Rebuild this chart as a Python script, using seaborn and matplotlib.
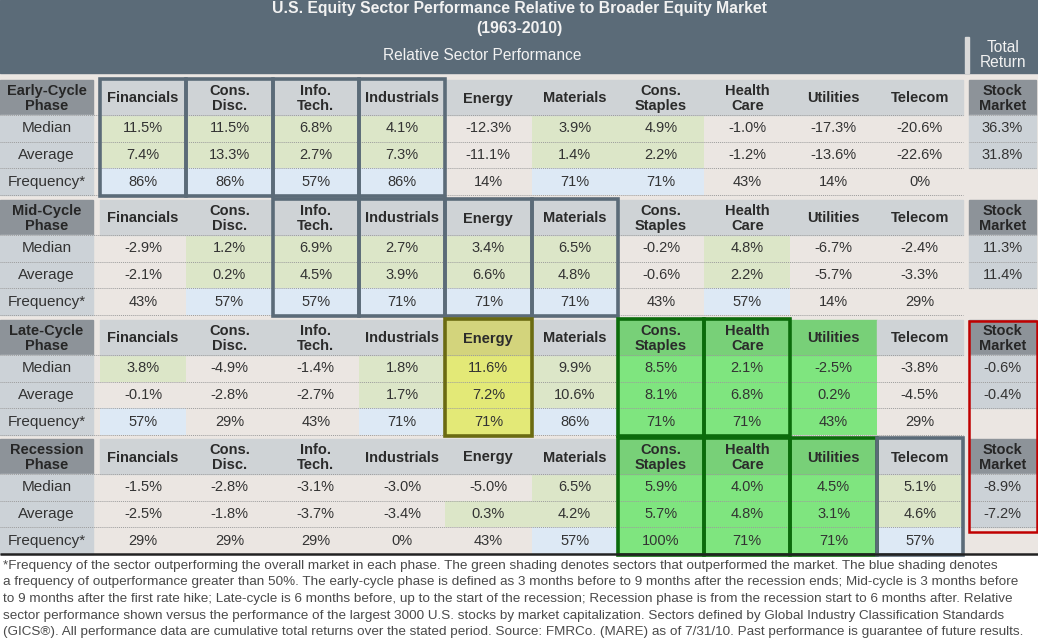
import numpy as np
import matplotlib.pyplot as plt
import seaborn as sns
from matplotlib.colors import ListedColormap
from matplotlib.patches import Rectangle

# ============================================================
# DADOS
# ============================================================

sectors = ['Financials', 'Cons.\nDisc.', 'Info.\nTech.', 'Industrials', 'Energy',
           'Materials', 'Cons.\nStaples', 'Health\nCare', 'Utilities', 'Telecom']
phases = ['Early-Cycle\nPhase', 'Mid-Cycle\nPhase', 'Late-Cycle\nPhase', 'Recession\nPhase']
row_labels = ['Median', 'Average', 'Frequency*']

early_median = [11.5, 11.5, 6.8, 4.1, -12.3, 3.9, 4.9, -1.0, -17.3, -20.6]
early_average = [7.4, 13.3, 2.7, 7.3, -11.1, 1.4, 2.2, -1.2, -13.6, -22.6]
early_freq = [86, 86, 57, 86, 14, 71, 71, 43, 14, 0]

mid_median = [-2.9, 1.2, 6.9, 2.7, 3.4, 6.5, -0.2, 4.8, -6.7, -2.4]
mid_average = [-2.1, 0.2, 4.5, 3.9, 6.6, 4.8, -0.6, 2.2, -5.7, -3.3]
mid_freq = [43, 57, 57, 71, 71, 71, 43, 57, 14, 29]

late_median = [3.8, -4.9, -1.4, 1.8, 11.6, 9.9, 8.5, 2.1, -2.5, -3.8]
late_average = [-0.1, -2.8, -2.7, 1.7, 7.2, 10.6, 8.1, 6.8, 0.2, -4.5]
late_freq = [57, 29, 43, 71, 71, 86, 71, 71, 43, 29]

rec_median = [-1.5, -2.8, -3.1, -3.0, -5.0, 6.5, 5.9, 4.0, 4.5, 5.1]
rec_average = [-2.5, -1.8, -3.7, -3.4, 0.3, 4.2, 5.7, 4.8, 3.1, 4.6]
rec_freq = [29, 29, 29, 0, 43, 57, 100, 71, 71, 57]

market_median = [36.3, 11.3, -0.6, -8.9]
market_average = [31.8, 11.4, -0.4, -7.2]

phase_data = [
    (early_median, early_average, early_freq),
    (mid_median, mid_average, mid_freq),
    (late_median, late_average, late_freq),
    (rec_median, rec_average, rec_freq),
]

footnote = [
    "*Frequency of the sector outperforming the overall market in each phase. The green shading denotes sectors that outperformed the market. The blue shading denotes",
    "a frequency of outperformance greater than 50%. The early-cycle phase is defined as 3 months before to 9 months after the recession ends; Mid-cycle is 3 months before",
    "to 9 months after the first rate hike; Late-cycle is 6 months before, up to the start of the recession; Recession phase is from the recession start to 6 months after. Relative",
    "sector performance shown versus the performance of the largest 3000 U.S. stocks by market capitalization. Sectors defined by Global Industry Classification Standards",
    "(GICS\u00ae). All performance data are cumulative total returns over the stated period. Source: FMRCo. (MARE) as of 7/31/10. Past performance is guarantee of future results.",
]

# ============================================================
# ESTILO / LAYOUT (pixels)
# ============================================================

sns.set_style('white')
plt.rcParams['font.family'] = ['Liberation Sans', 'DejaVu Sans']

W, H = 1038, 641
X0, CW = 100, 86.3
LAB_X1 = 93
MK_X0, MK_X1 = 969, 1036
block_tops = [80, 200, 320, 439]
HDR_H, ROW_H = 35, 26.7

BG = '#ebe6e2'
SLATE = '#5b6b78'
HDR_GRAY = '#cfd3d6'
DARK_GRAY = '#8d9399'
LIGHT_LAB = '#ccd2d7'
TXT = '#333333'

# 0 neutro, 1 verde, 2 azul, 3 verde forte, 4 amarelo
cell_colors = [BG, '#dce6c8', '#dde9f5', '#7fe57f', '#e3e977']
hdr_colors = {3: '#78d078', 4: '#d3d47c'}
highlight = {2: {4: 4, 6: 3, 7: 3, 8: 3}, 3: {6: 3, 7: 3, 8: 3}}
boxes = [
    (0, [0, 1, 2, 3], SLATE),
    (1, [2, 3, 4, 5], SLATE),
    (2, [4], '#6b6b12'),
    (2, [6, 7], '#0b6b0b'),
    (3, [6, 7, 8], '#0b6b0b'),
    (3, [9], SLATE),
]

fig = plt.figure(figsize=(W / 100, H / 100), dpi=100)


def px_axes(x0, y0, x1, y1, z):
    a = fig.add_axes([x0 / W, 1 - y1 / H, (x1 - x0) / W, (y1 - y0) / H], zorder=z)
    return a


bg = px_axes(0, 0, W, H, 0)
bg.set_xlim(0, W)
bg.set_ylim(H, 0)
bg.set_axis_off()
bg.add_patch(Rectangle((0, 0), W, H, color=BG))
bg.add_patch(Rectangle((0, 0), W, 73, color=SLATE))
bg.add_patch(Rectangle((965, 37), 4, 36, color='#d9d9d9'))
bg.add_patch(Rectangle((0, 555), W, H - 555, color='white'))

top = px_axes(0, 0, W, H, 5)
top.set_xlim(0, W)
top.set_ylim(H, 0)
top.set_axis_off()
top.patch.set_alpha(0)

# titulos
top.text(519, 9, 'U.S. Equity Sector Performance Relative to Broader Equity Market',
         ha='center', va='center', fontsize=11.3, fontweight='bold', color='#f2f2f2')
top.text(519, 28, '(1963-2010)', ha='center', va='center', fontsize=11.3,
         fontweight='bold', color='#f2f2f2')
top.text(482, 55, 'Relative Sector Performance', ha='center', va='center',
         fontsize=11.2, color='#f2f2f2')
top.text(1003, 55, 'Total\nReturn', ha='center', va='center', fontsize=11.2,
         color='#f2f2f2', linespacing=1.0)

cmap = ListedColormap(cell_colors)

for p, (med, avg, freq) in enumerate(phase_data):
    yt = block_tops[p]
    yh = yt + HDR_H
    yb = yh + 3 * ROW_H

    # codigos de cor a partir dos dados
    codes = np.zeros((3, len(sectors)), dtype=int)
    for j in range(len(sectors)):
        codes[0, j] = 1 if med[j] > 0 else 0
        codes[1, j] = 1 if avg[j] > 0 else 0
        codes[2, j] = 2 if freq[j] > 50 else 0
    for j, c in highlight.get(p, {}).items():
        codes[:, j] = c
    labels = np.array([[f'{v:.1f}%' for v in med],
                       [f'{v:.1f}%' for v in avg],
                       [f'{v}%' for v in freq]])

    hax = px_axes(X0, yh, X0 + CW * len(sectors), yb, 1)
    sns.heatmap(codes, ax=hax, cmap=cmap, vmin=-0.5, vmax=len(cell_colors) - 0.5,
                cbar=False, annot=labels, fmt='', xticklabels=False, yticklabels=False,
                annot_kws=dict(fontsize=10.5, color=TXT))
    hax.set_axis_off()

    # cabecalho dos setores
    for j, s in enumerate(sectors):
        c = hdr_colors.get(highlight.get(p, {}).get(j), HDR_GRAY)
        top.add_patch(Rectangle((X0 + j * CW, yt), CW, HDR_H, color=c, zorder=1))
        top.text(X0 + (j + 0.5) * CW, yt + HDR_H / 2 + 1, s, ha='center', va='center',
                 fontsize=10.5, fontweight='bold', color='#2b2b2b', linespacing=1.02, zorder=3)

    # coluna de rotulos
    top.add_patch(Rectangle((0, yt), LAB_X1, HDR_H, color=DARK_GRAY, zorder=1))
    top.text(LAB_X1 / 2, yt + HDR_H / 2 + 1, phases[p], ha='center', va='center',
             fontsize=10.5, fontweight='bold', color='#262626', linespacing=1.02, zorder=3)
    for r, lab in enumerate(row_labels):
        y = yh + r * ROW_H
        top.add_patch(Rectangle((0, y), LAB_X1, ROW_H, color=LIGHT_LAB, zorder=1))
        top.text(LAB_X1 / 2, y + ROW_H / 2, lab, ha='center', va='center',
                 fontsize=11, color=TXT, zorder=3)

    # mercado
    top.add_patch(Rectangle((MK_X0, yt), MK_X1 - MK_X0, HDR_H, color=DARK_GRAY, zorder=1))
    top.text((MK_X0 + MK_X1) / 2, yt + HDR_H / 2 + 1, 'Stock\nMarket', ha='center',
             va='center', fontsize=10.5, fontweight='bold', color='#262626',
             linespacing=1.02, zorder=3)
    for r, v in enumerate([market_median[p], market_average[p]]):
        y = yh + r * ROW_H
        top.add_patch(Rectangle((MK_X0, y), MK_X1 - MK_X0, ROW_H, color=LIGHT_LAB, zorder=1))
        top.text((MK_X0 + MK_X1) / 2, y + ROW_H / 2, f'{v:.1f}%', ha='center',
                 va='center', fontsize=10.5, color=TXT, zorder=3)

    # linhas pontilhadas
    for k in range(4):
        y = yh + k * ROW_H
        top.hlines(y, 0, X0 + CW * len(sectors), colors='#9c9c9c', lw=0.7,
                   linestyles=(0, (1, 1)), zorder=2)
        if k < 3:
            top.hlines(y, MK_X0, MK_X1, colors='#9c9c9c', lw=0.7,
                       linestyles=(0, (1, 1)), zorder=2)

# caixas
for p, cols, c in boxes:
    yt = block_tops[p]
    yb = yt + HDR_H + 3 * ROW_H
    for j in cols:
        top.add_patch(Rectangle((X0 + j * CW, yt - 1), CW, yb - yt + 2, fill=False,
                                ec=c, lw=2.6, zorder=4))

top.add_patch(Rectangle((MK_X0, 321), MK_X1 + 1 - MK_X0, 211, fill=False,
                        ec='#c00000', lw=1.8, zorder=4))

# rodape
top.hlines(554, 0, W, colors='#222222', lw=1.8, zorder=4)
for i, line in enumerate(footnote):
    top.text(3, 566 + i * 16.5, line, ha='left', va='center', fontsize=9.7,
             color='#4a4a4a', zorder=3)

fig.savefig('out.png', dpi=100)
